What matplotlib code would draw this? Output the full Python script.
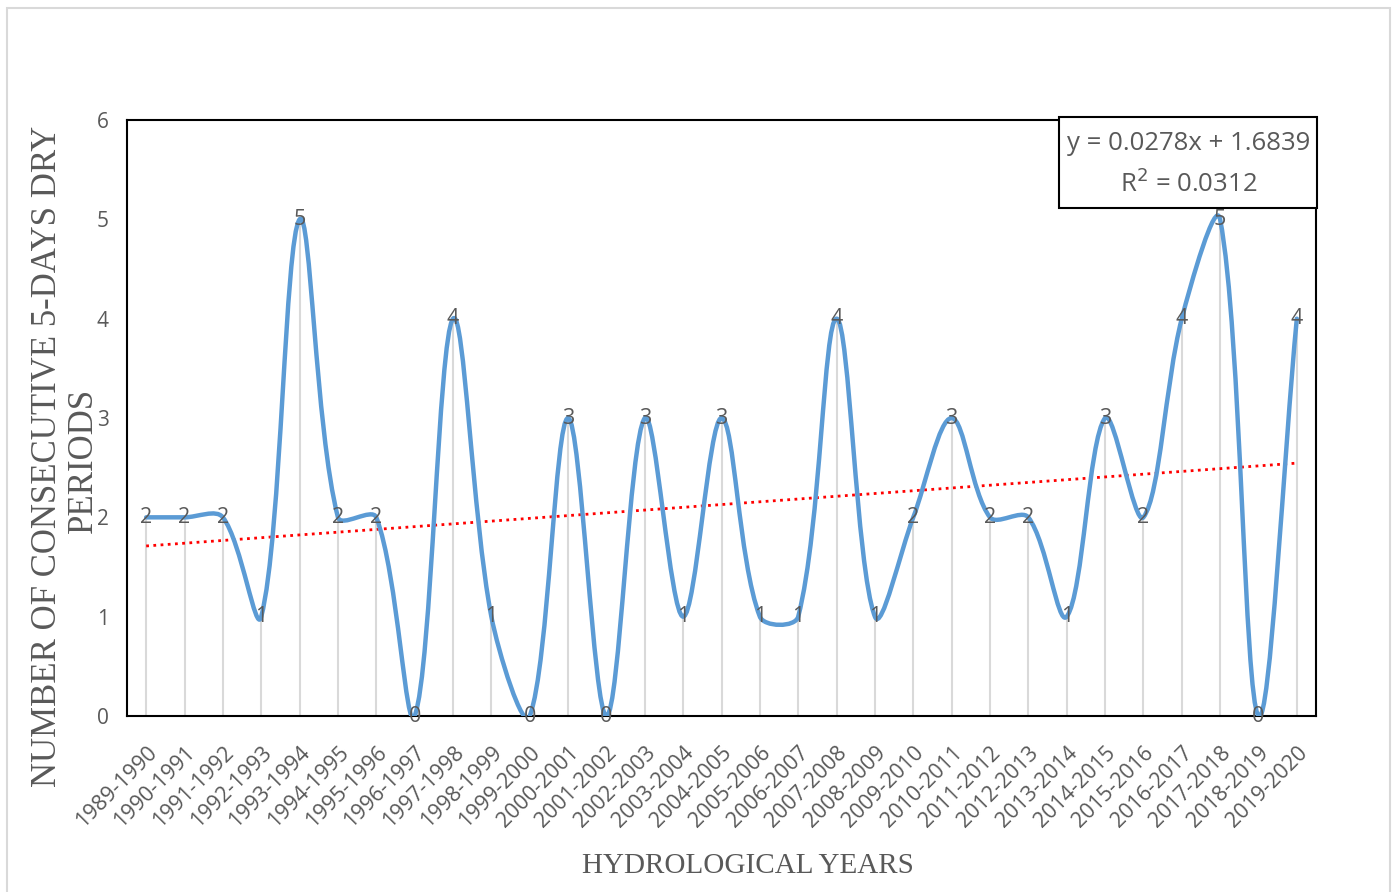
import matplotlib
matplotlib.use("Agg")
import matplotlib.pyplot as plt
from matplotlib.path import Path
from matplotlib.patches import PathPatch, Rectangle
import numpy as np

years = ["1989-1990", "1990-1991", "1991-1992", "1992-1993", "1993-1994", "1994-1995",
         "1995-1996", "1996-1997", "1997-1998", "1998-1999", "1999-2000", "2000-2001",
         "2001-2002", "2002-2003", "2003-2004", "2004-2005", "2005-2006", "2006-2007",
         "2007-2008", "2008-2009", "2009-2010", "2010-2011", "2011-2012", "2012-2013",
         "2013-2014", "2014-2015", "2015-2016", "2016-2017", "2017-2018", "2018-2019",
         "2019-2020"]
dry_periods = [2, 2, 2, 1, 5, 2, 2, 0, 4, 1, 0, 3, 0, 3, 1, 3, 1, 1, 4, 1, 2, 3, 2, 2, 1,
               3, 2, 4, 5, 0, 4]
slope = 0.0278
intercept = 1.6839
r2 = 0.0312
yticks = [0, 1, 2, 3, 4, 5, 6]

W, H = 1397, 892
fig = plt.figure(figsize=(W / 100, H / 100), dpi=100)
fig.patches.append(Rectangle((7 / W, -0.01), (1390 - 7) / W, 1 - 8 / H + 0.01,
                             transform=fig.transFigure, fill=False,
                             edgecolor="#d9d9d9", linewidth=1.5))
ax = fig.add_axes([127 / W, 1 - 716 / H, (1316 - 127) / W, (716 - 120) / H])

x = np.arange(len(dry_periods))
y = np.array(dry_periods, dtype=float)
ax.set_xlim(-0.5, len(x) - 0.5)
ax.set_ylim(0, 6)

# drop lines
ax.vlines(x, 0, y, colors="#d9d9d9", linewidth=1.5, zorder=1)

# trendline (Excel x = 1..n)
xt = x + 1
ax.plot(x, slope * xt + intercept, color="#ff0000", linestyle=(0, (1, 1.6)),
        linewidth=2, zorder=2)

# smoothed line, Excel-like Bezier computed in display space
pts = ax.transData.transform(np.column_stack([x, y]))
n = len(pts)
verts = [pts[0]]
codes = [Path.MOVETO]
for i in range(n - 1):
    p0 = pts[i - 1] if i > 0 else pts[i]
    p1 = pts[i]
    p2 = pts[i + 1]
    p3 = pts[i + 2] if i + 2 < n else pts[i + 1]
    d01 = np.hypot(*(p1 - p0))
    d12 = np.hypot(*(p2 - p1))
    d23 = np.hypot(*(p3 - p2))
    f1 = d12 / (d01 + d12) if d01 + d12 > 0 else 0
    f2 = d12 / (d12 + d23) if d12 + d23 > 0 else 0
    c1 = p1 + (p2 - p0) / 3.0 * f1
    c2 = p2 - (p3 - p1) / 3.0 * f2
    verts += [c1, c2, p2]
    codes += [Path.CURVE4] * 3
verts = ax.transData.inverted().transform(np.array(verts))
ax.add_patch(PathPatch(Path(verts, codes), facecolor="none", edgecolor="#5b9bd5",
                       linewidth=3.2, capstyle="round", joinstyle="round", zorder=3))

for xi, yi in zip(x, dry_periods):
    ax.text(xi, yi, str(yi), ha="center", va="center", fontsize=15.5,
            color="#595959", family="Open Sans", zorder=4)

ax.set_yticks(yticks)
ax.set_yticklabels([str(t) for t in yticks], fontsize=15, color="#595959",
                   family="Open Sans")
ax.set_xticks(x)
ax.set_xticklabels(years, rotation=45, ha="right", rotation_mode="anchor",
                   fontsize=15.5, color="#595959", family="Open Sans")
ax.tick_params(axis="both", length=0)
ax.tick_params(axis="y", pad=13)
ax.tick_params(axis="x", pad=19)
for s in ax.spines.values():
    s.set_color("black")
    s.set_linewidth(1.5)

# equation box
fig.patches.append(Rectangle((1059 / W, 1 - 208 / H), (1317 - 1059) / W, (208 - 117) / H,
                             transform=fig.transFigure, facecolor="white",
                             edgecolor="black", linewidth=1.5, zorder=5))
fig.text(1189 / W, 1 - 144 / H, "y = 0.0278x + 1.6839", ha="center", va="center",
         fontsize=18.5, color="#595959", family="Open Sans", zorder=6)
fig.text(1189 / W, 1 - 184 / H, "R$^2$ = 0.0312", ha="center", va="center",
         fontsize=18.5, color="#595959", family="Open Sans", zorder=6)

fig.text(48 / W, 1 - 456 / H, "NUMBER OF CONSECUTIVE 5-DAYS DRY",
         rotation=90, ha="center", va="center", fontsize=25, color="#595959",
         family="Liberation Serif")
fig.text(83 / W, 1 - 460 / H, "PERIODS",
         rotation=90, ha="center", va="center", fontsize=25, color="#595959",
         family="Liberation Serif")
fig.text(748 / W, 1 - 866 / H, "HYDROLOGICAL YEARS", ha="center", va="center",
         fontsize=21, color="#595959", family="Liberation Serif")

fig.savefig("out.png", dpi=100)
